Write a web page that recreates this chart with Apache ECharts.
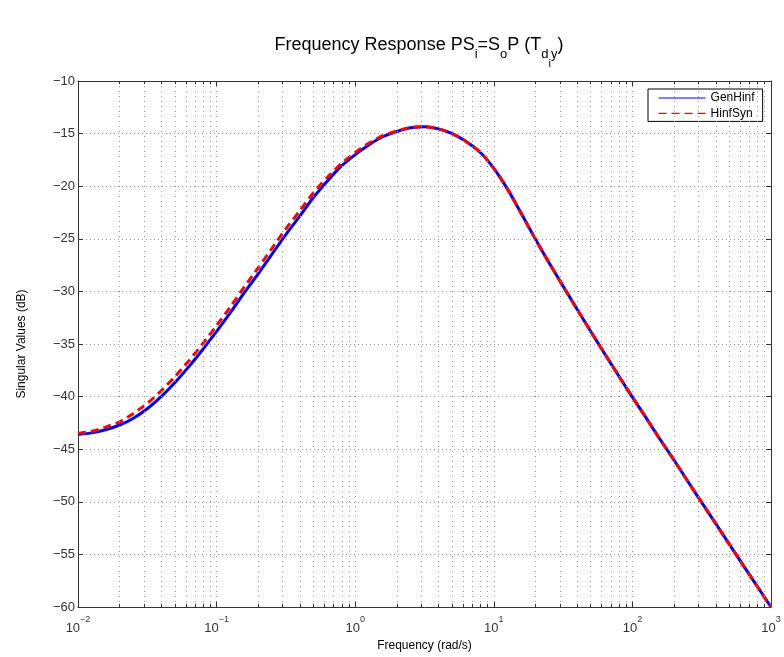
<!DOCTYPE html>
<html><head><meta charset="utf-8">
<script src="https://cdn.jsdelivr.net/npm/echarts@6/dist/echarts.min.js"></script>
<style>html,body{margin:0;padding:0;background:#fff}#c{width:784px;height:657px}</style>
</head><body><div id="c"></div>
<script>
// Frequencies (rad/s)
const freq = [0.01, 0.0126, 0.0158, 0.02, 0.0251, 0.0316, 0.0398, 0.0501, 0.0631, 0.0794,
  0.1, 0.126, 0.158, 0.2, 0.251, 0.316, 0.398, 0.501, 0.631, 0.794,
  1, 1.26, 1.58, 2, 2.51, 3.16, 3.98, 5.01, 6.31, 7.94,
  10, 12.6, 15.8, 20, 25.1, 31.6, 39.8, 50.1, 63.1, 79.4,
  100, 126, 158, 200, 251, 316, 398, 501, 631, 794, 1000];
// Singular values (dB)
const genHinf = [-43.6, -43.45, -43.15, -42.7, -42.05, -41.15, -40.0, -38.65, -37.15, -35.52,
  -33.8, -32.0, -30.15, -28.3, -26.45, -24.6, -22.85, -21.05, -19.5, -18.1,
  -17.0, -16.05, -15.3, -14.8, -14.45, -14.35, -14.55, -15.0, -15.75, -16.75,
  -18.3, -20.3, -22.6, -25.05, -27.3, -29.5, -31.67, -33.81, -35.92, -38.0,
  -40.05, -42.05, -44.05, -46.05, -48.05, -50.05, -52.05, -54.05, -56.05, -58.02, -60.0];
const hinfSyn = [-43.5, -43.3, -42.9, -42.4, -41.6, -40.65, -39.45, -38.1, -36.6, -34.97,
  -33.25, -31.45, -29.6, -27.75, -25.9, -24.05, -22.35, -20.6, -19.15, -17.85,
  -16.8, -15.9, -15.2, -14.75, -14.42, -14.35, -14.55, -15.0, -15.75, -16.75,
  -18.3, -20.3, -22.6, -25.05, -27.3, -29.5, -31.67, -33.81, -35.92, -38.0,
  -40.05, -42.05, -44.05, -46.05, -48.05, -50.05, -52.05, -54.05, -56.05, -58.02, -60.0];
const seriesNames = ['GenHinf', 'HinfSyn'];
const xMin = 0.01, xMax = 1000;
const yMin = -60, yMax = -10, yStep = 5;
const titleText = '{n|Frequency Response PS}{s|i}{n|=S}{s|o}{n|P (T}{s|d}{ss|i}{s|y}{n|)}';

// minor (2..9 x decade) positions for log grid
const minorFreqs = [];
for (let k = -2; k <= 2; k++) for (let m = 2; m <= 9; m++) minorFreqs.push(+(m * Math.pow(10, k)).toPrecision(3));

const FONT = '"Liberation Sans", Arial, Helvetica, sans-serif';
const AX = '#333';
const LBL = '#333';
const GRIDC = '#999';
const VDASH = [1, 4], HDASH = [1, 3];

const pairs = (ys) => freq.map((f, i) => [f, ys[i]]);

const minorGrid = minorFreqs.map(f => ({ xAxis: f }));
const tickLen = 0.3;
const minorTicks = [];
minorFreqs.forEach(f => {
  minorTicks.push([{ coord: [f, yMin] }, { coord: [f, yMin + tickLen] }]);
  minorTicks.push([{ coord: [f, yMax] }, { coord: [f, yMax - tickLen] }]);
});

const chart = echarts.init(document.getElementById('c'), null, { renderer: 'canvas' });
chart.setOption({
  animation: false,
  backgroundColor: '#fff',
  textStyle: { fontFamily: FONT },
  title: {
    text: titleText,
    left: 414, top: 31, textAlign: 'center',
    textStyle: {
      fontFamily: FONT, color: '#000', fontWeight: 'normal',
      rich: {
        n: { fontSize: 18, lineHeight: 22, verticalAlign: 'top', fontFamily: FONT, color: '#000', fontWeight: 'normal' },
        s: { fontSize: 13, lineHeight: 15, padding: [12, 0, 0, 0], verticalAlign: 'top', fontFamily: FONT, color: '#000', fontWeight: 'normal' },
        ss: { fontSize: 11, lineHeight: 12, padding: [22, 0, 0, 0], verticalAlign: 'top', fontFamily: FONT, color: '#000', fontWeight: 'normal' }
      }
    }
  },
  legend: {
    orient: 'vertical', left: 648, top: 89,
    padding: [3, 8, 2, 10],
    itemWidth: 47, itemHeight: 14, itemGap: 3.4,
    borderColor: '#000', borderWidth: 1, backgroundColor: '#fff',
    textStyle: { fontSize: 12, color: '#000', fontFamily: FONT },
    itemStyle: { opacity: 0, color: 'rgba(0,0,0,0)', borderWidth: 0 },
    lineStyle: { width: 1.2 },
    data: seriesNames
  },
  grid: { left: 78, right: 13, top: 81, bottom: 50, containLabel: false },
  xAxis: [{
    type: 'log', logBase: 10, min: xMin, max: xMax,
    name: 'Frequency (rad/s)', nameLocation: 'middle', nameGap: 18,
    nameTextStyle: { fontSize: 12, color: '#000', fontFamily: FONT },
    axisLine: { show: true, lineStyle: { color: AX, width: 1 } },
    axisTick: { show: true, inside: true, length: 5, lineStyle: { color: AX } },
    splitLine: { show: true, lineStyle: { color: GRIDC, type: VDASH, width: 1 } },
    axisLabel: {
      margin: 8, color: LBL,
      formatter: v => { const e = Math.round(Math.log10(v)); return '{b|10}{e|' + (e < 0 ? '\u2212' + (-e) : e) + '}'; },
      rich: {
        b: { fontSize: 13, padding: [7, 0, 0, 0], verticalAlign: 'top', color: LBL, fontFamily: FONT },
        e: { fontSize: 9, verticalAlign: 'top', color: LBL, fontFamily: FONT }
      }
    }
  }, {
    type: 'log', logBase: 10, min: xMin, max: xMax, position: 'top',
    axisLine: { show: true, lineStyle: { color: AX, width: 1 } },
    axisTick: { show: true, inside: true, length: 5, lineStyle: { color: AX } },
    axisLabel: { show: false }, splitLine: { show: false }
  }],
  yAxis: [{
    type: 'value', min: yMin, max: yMax, interval: yStep,
    name: 'Singular Values (dB)', nameLocation: 'middle', nameGap: 50,
    nameTextStyle: { fontSize: 12, color: '#000', fontFamily: FONT },
    axisLine: { show: true, lineStyle: { color: AX, width: 1 } },
    axisTick: { show: true, inside: true, length: 5, lineStyle: { color: AX } },
    splitLine: { show: true, lineStyle: { color: GRIDC, type: HDASH, width: 1 } },
    axisLabel: { margin: 3, fontSize: 13, color: LBL, fontFamily: FONT,
      formatter: v => v < 0 ? '\u2212' + (-v) : '' + v }
  }, {
    type: 'value', min: yMin, max: yMax, interval: yStep, position: 'right',
    axisLine: { show: true, lineStyle: { color: AX, width: 1 } },
    axisTick: { show: true, inside: true, length: 5, lineStyle: { color: AX } },
    axisLabel: { show: false }, splitLine: { show: false }
  }],
  series: [
    {
      name: '_grid', type: 'line', data: [], z: 1, silent: true, legendHoverLink: false,
      markLine: { silent: true, symbol: ['none', 'none'], label: { show: false }, animation: false,
        lineStyle: { color: GRIDC, type: VDASH, width: 1 }, emphasis: { disabled: true }, data: minorGrid }
    },
    {
      name: '_ticks', type: 'line', data: [], z: 1, silent: true,
      markLine: { silent: true, symbol: ['none', 'none'], label: { show: false }, animation: false,
        lineStyle: { color: AX, type: 'solid', width: 1 }, emphasis: { disabled: true }, data: minorTicks }
    },
    {
      name: seriesNames[0], type: 'line', data: pairs(genHinf), smooth: 0.25, symbol: 'none',
      z: 3, lineStyle: { color: '#0000ff', width: 3 }, itemStyle: { color: '#0000ff' }
    },
    {
      name: seriesNames[1], type: 'line', data: pairs(hinfSyn), smooth: 0.25, symbol: 'none',
      z: 4, lineStyle: { color: '#ff0000', width: 3, type: [8, 5] }, itemStyle: { color: '#ff0000' }
    }
  ]
});
</script>
</body></html>
